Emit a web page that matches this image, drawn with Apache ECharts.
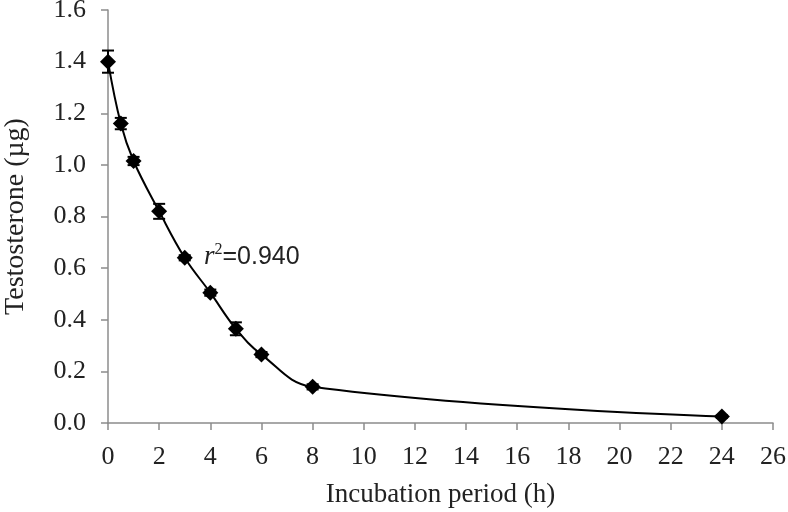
<!DOCTYPE html>
<html><head><meta charset="utf-8">
<script src="https://cdn.jsdelivr.net/npm/echarts@6/dist/echarts.min.js"></script>
<style>html,body{margin:0;padding:0;background:#fff}#c{width:788px;height:512px}</style>
</head><body><div id="c"></div>
<script>
const hours = [0, 0.5, 1, 2, 3, 4, 5, 6, 8, 24];
const testosterone = [1.40, 1.16, 1.015, 0.82, 0.64, 0.505, 0.365, 0.265, 0.14, 0.025];
const errors = [0.043, 0.022, 0.016, 0.029, 0.01, 0.012, 0.025, 0.01, 0.01, 0.005];
const xTicks = [0, 2, 4, 6, 8, 10, 12, 14, 16, 18, 20, 22, 24, 26];
const yTicks = [0.0, 0.2, 0.4, 0.6, 0.8, 1.0, 1.2, 1.4, 1.6];
const r2Label = '0.940';

const font = 'Liberation Serif';
const chart = echarts.init(document.getElementById('c'));
const pts = hours.map((h, i) => [h, testosterone[i]]);
const errData = hours.map((h, i) => [h, testosterone[i] - errors[i], testosterone[i] + errors[i]]);

chart.setOption({
  animation: false,
  grid: { left: 108, right: 15, top: 10, bottom: 89, containLabel: false, outerBoundsMode: 'none' },
  xAxis: {
    type: 'value', min: xTicks[0], max: xTicks[xTicks.length - 1], interval: 2,
    name: 'Incubation period (h)', nameLocation: 'middle', nameGap: 58,
    nameTextStyle: { fontFamily: font, fontSize: 27, color: '#222' },
    axisLine: { lineStyle: { color: '#8c8c8c', width: 1.5 } },
    axisTick: { show: true, length: 7, lineStyle: { color: '#8c8c8c', width: 1.5 } },
    axisLabel: { fontFamily: font, fontSize: 26, color: '#222', margin: 21 },
    splitLine: { show: false }
  },
  yAxis: {
    type: 'value', min: yTicks[0], max: yTicks[yTicks.length - 1], interval: 0.2,
    name: 'Testosterone (µg)', nameLocation: 'middle', nameGap: 78, nameRotate: 90,
    nameTextStyle: { fontFamily: font, fontSize: 28, color: '#222' },
    axisLine: { show: true, lineStyle: { color: '#8c8c8c', width: 1.5 } },
    axisTick: { show: true, length: 7, lineStyle: { color: '#8c8c8c', width: 1.5 } },
    axisLabel: { fontFamily: font, fontSize: 26, color: '#222', margin: 22,
      padding: [5, 0, 0, 0], formatter: v => v.toFixed(1) },
    splitLine: { show: false }
  },
  series: [
    {
      type: 'line', data: pts, smooth: 0.4,
      symbol: 'diamond', symbolSize: 16,
      lineStyle: { color: '#000', width: 2 },
      itemStyle: { color: '#000' },
      z: 3
    },
    {
      type: 'custom', data: errData, z: 4,
      renderItem: function (params, api) {
        const x = api.value(0);
        const lo = api.coord([x, api.value(1)]);
        const hi = api.coord([x, api.value(2)]);
        const w = 6;
        return {
          type: 'group',
          children: [
            { type: 'line', shape: { x1: lo[0], y1: lo[1], x2: hi[0], y2: hi[1] }, style: { stroke: '#000', lineWidth: 2 } },
            { type: 'line', shape: { x1: lo[0] - w, y1: lo[1], x2: lo[0] + w, y2: lo[1] }, style: { stroke: '#000', lineWidth: 2 } },
            { type: 'line', shape: { x1: hi[0] - w, y1: hi[1], x2: hi[0] + w, y2: hi[1] }, style: { stroke: '#000', lineWidth: 2 } }
          ]
        };
      }
    }
  ],
  graphic: [{
    type: 'text', left: 204, top: 242,
    style: {
      text: '{i|r}{s|2}{n|=' + r2Label + '}',
      rich: {
        i: { fontFamily: font, fontStyle: 'italic', fontSize: 27, fill: '#222' },
        s: { fontFamily: font, fontSize: 16, fill: '#222', padding: [0, 0, 14, 0] },
        n: { fontFamily: 'Liberation Sans', fontSize: 25, fill: '#222' }
      }
    }
  }]
});
</script></body></html>
